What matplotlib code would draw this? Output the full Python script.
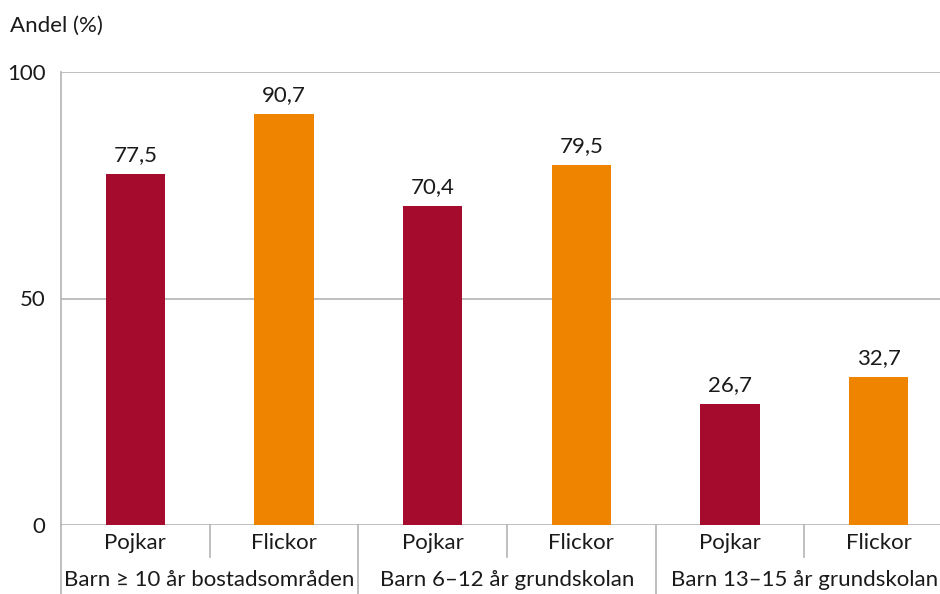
import matplotlib.pyplot as plt
import matplotlib.transforms as mtrans
import numpy as np

# データ
groups = ["Barn \u2265 10 år bostadsområden", "Barn 6\u201312 år grundskolan", "Barn 13\u201315 år grundskolan"]
sexes = ["Pojkar", "Flickor"]
pojkar = [77.5, 70.4, 26.7]
flickor = [90.7, 79.5, 32.7]
yticks = [0, 50, 100]

c_boy = "#a50b2d"
c_girl = "#ef8400"
grid_c = "#b4b4b4"
txt_c = "#1a1a1a"

plt.rcParams['font.family'] = ['Lato', 'DejaVu Sans']
fs = 16

W, H = 940, 594
fig = plt.figure(figsize=(W / 100, H / 100), dpi=100)
# 右端は図の外まで伸びる
ax = fig.add_axes([61 / W, 1 - 525 / H, (953 - 61) / W, (525 - 72) / H])

# 値を交互に並べる
values = []
colors = []
for p, f in zip(pojkar, flickor):
    values += [p, f]
    colors += [c_boy, c_girl]
x = np.arange(len(values))

ax.bar(x, values, width=0.40, color=colors, zorder=3)
for xi, v in zip(x, values):
    ax.text(xi, v + 2, f"{v:.1f}".replace(".", ","), ha="center", va="bottom",
            fontsize=fs, color=txt_c)

ax.set_xlim(-0.5, len(values) - 0.5)
ax.set_ylim(0, 100)
ax.set_yticks(yticks)
ax.set_yticklabels([str(t) for t in yticks], fontsize=fs, color=txt_c)
ax.tick_params(axis="y", length=0, pad=11)
ax.set_xticks([])

for s in ["top", "right", "bottom"]:
    ax.spines[s].set_visible(False)
ax.spines["left"].set_color(grid_c)
ax.spines["left"].set_linewidth(1.2)
for t in yticks:
    ax.axhline(t, color=grid_c, lw=1.2, zorder=1)

# 二段の x 軸ラベル
trans = mtrans.blended_transform_factory(ax.transData, fig.transFigure)
y0 = 1 - 525 / H
y_short = 1 - 557 / H
for i in range(len(values) + 1):
    xb = i - 0.5
    if i % 2 == 1:
        ax.plot([xb, xb], [y0, y_short], transform=trans, color=grid_c,
                lw=1.2, clip_on=False)
    elif i < len(values):
        ax.plot([xb, xb], [y0, 0.0], transform=trans, color=grid_c,
                lw=1.2, clip_on=False)

for i in range(len(values)):
    ax.text(i, 1 - 543 / H, sexes[i % 2], transform=trans, ha="center", va="center",
            fontsize=fs, color=txt_c)
for g, name in enumerate(groups):
    ax.text(2 * g + 0.5, 1 - 580 / H, name, transform=trans, ha="center", va="center",
            fontsize=fs, color=txt_c)

fig.text(10 / W, 1 - 26 / H, "Andel (%)", ha="left", va="center", fontsize=fs,
         color=txt_c)

fig.savefig("out.png", dpi=100)
